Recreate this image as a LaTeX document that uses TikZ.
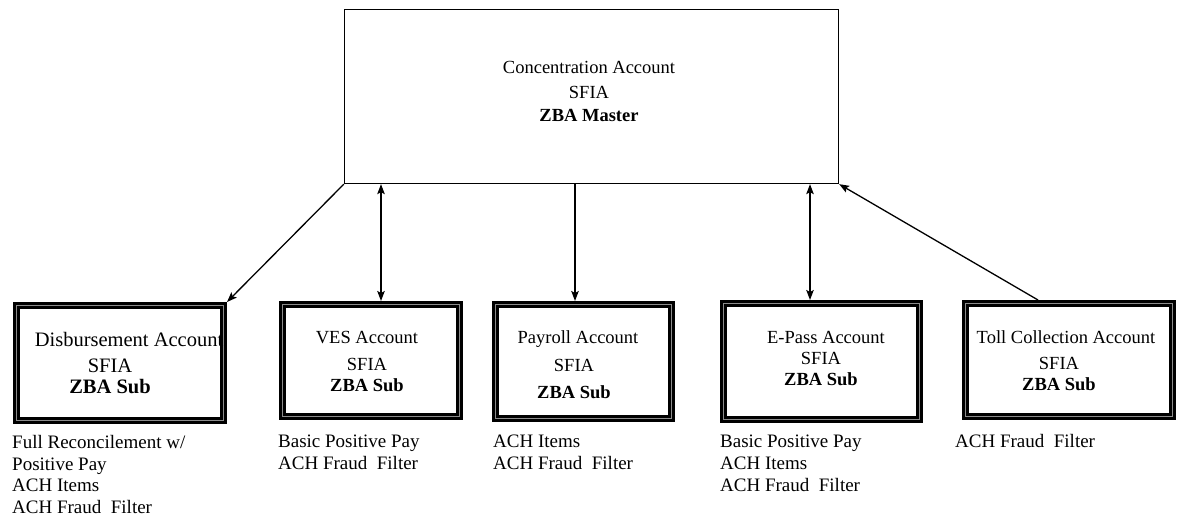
\documentclass[tikz,border=0pt]{standalone}
\usepackage{fontspec}
\setmainfont{Liberation Serif}
\usetikzlibrary{arrows.meta}
\begin{document}
\begin{tikzpicture}[x=1pt,y=-1pt,
  master/.style={draw, line width=1.3pt, minimum width=494pt, minimum height=174pt, inner sep=0pt},
  subbox/.style={draw, line width=2.9pt, double=black!45, double distance=0.8pt, inner sep=0pt, outer sep=3.3pt},
  boxtext/.style={anchor=north, inner sep=0pt, align=center, font=\fontsize{18.5}{21}\selectfont},
  note/.style={anchor=north west, inner sep=0pt, align=left, font=\fontsize{19}{21.7}\selectfont},
  tip/.tip={Stealth[length=10pt,width=7.5pt,inset=2pt]},
  conn/.style={line width=1.3pt, -tip},
  dconn/.style={line width=1.3pt, tip-tip},
]
\useasboundingbox (0,0) rectangle (1178,518);

% master box
\node[master] (m) at (591.5,96.5) {};
\node[boxtext] (mt) at (589,61.5) {Concentration Account\\[4pt]SFIA\\[2pt]\textbf{ZBA Master}};

% sub boxes
\node[subbox, minimum width=207.4pt, minimum height=115.4pt] (dis) at (120,363) {};
\node[subbox, minimum width=177.4pt, minimum height=112.4pt] (ves) at (371,360.5) {};
\node[subbox, minimum width=176.4pt, minimum height=114.4pt] (pay) at (583.5,361.5) {};
\node[subbox, minimum width=196.4pt, minimum height=116.4pt] (epa) at (821.5,361.5) {};
\node[subbox, minimum width=207.4pt, minimum height=113.4pt] (tol) at (1069,360) {};

% box texts
\node[boxtext, font=\fontsize{20.5}{23}\selectfont] (dist) at (110,332) {\hspace*{38pt}Disbursement Account\\[3pt]SFIA\\[-2pt]\textbf{ZBA Sub}};
\node[boxtext] (vest) at (367,331.5) {VES Account\\[6pt]SFIA\\\textbf{ZBA Sub}};
\node[boxtext] (payt) at (574,330.4) {\hspace*{8pt}Payroll Account\\[7pt]SFIA\\[6pt]\textbf{ZBA Sub}};
\node[boxtext] (epat) at (821,331.4) {\hspace*{10pt}E-Pass Account\\SFIA\\\textbf{ZBA Sub}};
\node[boxtext] (tolt) at (1059,330.4) {\hspace*{14pt}Toll Collection Account\\[5pt]SFIA\\\textbf{ZBA Sub}};

% notes
\node[note] (disn) at (12,435) {Full Reconcilement w/\\Positive Pay\\ACH Items\\ACH Fraud\ \ Filter};
\node[note] (vesn) at (278,435) {Basic Positive Pay\\ACH Fraud\ \ Filter};
\node[note] (payn) at (493,435) {ACH Items\\ACH Fraud\ \ Filter};
\node[note] (epan) at (720,435) {Basic Positive Pay\\ACH Items\\ACH Fraud\ \ Filter};
\node[note] (toln) at (955,434) {ACH Fraud\ \ Filter};

% connectors
\coordinate (vesT) at ([xshift=10pt]ves.north);
\coordinate (payT) at ([xshift=-8.5pt]pay.north);
\coordinate (epaT) at ([xshift=-11.5pt]epa.north);
\coordinate (tolT) at ([xshift=-31pt]tol.north);

\draw[conn] (m.south west) -- (dis.north east);
\draw[dconn] (vesT) -- (vesT |- m.south);
\draw[conn] (payT |- m.south) -- (payT);
\draw[dconn] (epaT) -- (epaT |- m.south);
\draw[conn] (tolT) -- (m.south east);
\end{tikzpicture}
\end{document}
